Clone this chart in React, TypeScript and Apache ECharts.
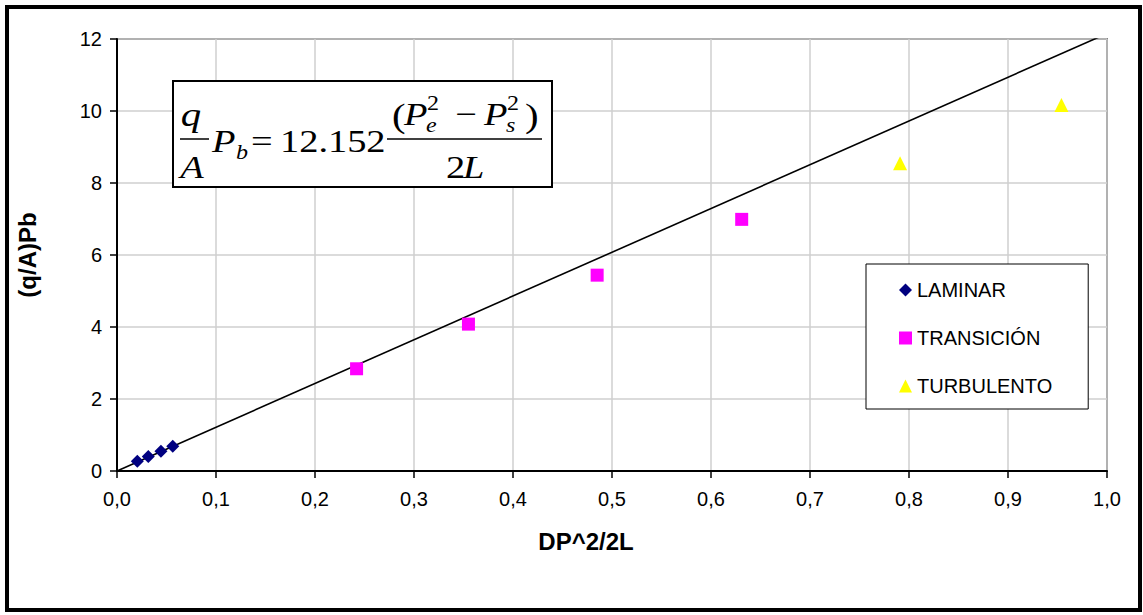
import React, { useEffect, useRef } from "react";
import * as echarts from "echarts";

const laminarX = [0.0205, 0.0316, 0.0444, 0.0563];
const laminarY = [0.27, 0.4, 0.55, 0.69];
const transX = [0.242, 0.355, 0.485, 0.631];
const transY = [2.84, 4.08, 5.44, 6.99];
const turbX = [0.791, 0.954];
const turbY = [8.55, 10.17];
const trendSlope = 12.152;
const trendX = [0, 1];
const seriesNames = ["LAMINAR", "TRANSICIÓN", "TURBULENTO"];
const xTitle = "DP^2/2L";
const yTitle = "(q/A)Pb";

const SANS = "'Liberation Sans', Arial, sans-serif";
const SERIF = "'Liberation Serif', 'Times New Roman', serif";

function pairs(xs: number[], ys: number[]) {
  return xs.map((x, i) => [x, ys[i]]);
}

function eqText(
  text: string,
  x: number,
  baseline: number,
  size: number,
  italic: boolean,
  align: string = "left"
) {
  return {
    type: "text",
    x,
    y: baseline - 0.3375 * size,
    scaleX: 1.2,
    z: 102,
    style: {
      text,
      fill: "#000",
      font: `${italic ? "italic " : ""}${size}px ${SERIF}`,
      textAlign: align,
      textVerticalAlign: "middle",
      verticalAlign: "middle",
    },
  };
}

export default function App() {
  const ref = useRef<HTMLDivElement>(null);
  useEffect(() => {
    if (!ref.current) return;
    const chart = echarts.init(ref.current, null, { renderer: "svg" });
    const option: any = {
      animation: false,
      backgroundColor: "#fff",
      grid: {
        left: 117,
        right: 36,
        top: 39,
        bottom: 144,
        show: true,
        borderColor: "#222",
        borderWidth: 1.5,
        backgroundColor: "transparent",
      },
      legend: {
        data: seriesNames,
        orient: "vertical",
        left: 866,
        top: 264,
        padding: [16, 36, 13, 33],
        itemWidth: 13,
        itemHeight: 13,
        itemGap: 28,
        borderColor: "#000",
        borderWidth: 1,
        backgroundColor: "#fff",
        textStyle: { color: "#000", fontSize: 20, fontFamily: SANS },
        selectedMode: false,
      },
      xAxis: {
        type: "value",
        min: 0,
        max: 1,
        interval: 0.1,
        axisLine: { show: true, lineStyle: { color: "#000", width: 2 } },
        axisTick: { show: true, length: 7, lineStyle: { color: "#000", width: 1.5 } },
        axisLabel: {
          color: "#000",
          fontSize: 20,
          fontFamily: SANS,
          margin: 18,
          formatter: (v: number) => v.toFixed(1).replace(".", ","),
        },
        splitLine: { show: true, lineStyle: { color: "#cfcfcf", width: 1.5 } },
      },
      yAxis: {
        type: "value",
        min: 0,
        max: 12,
        interval: 2,
        axisLine: { show: true, lineStyle: { color: "#000", width: 2 } },
        axisTick: { show: true, length: 7, lineStyle: { color: "#000", width: 1.5 } },
        axisLabel: {
          color: "#000",
          fontSize: 20,
          fontFamily: SANS,
          margin: 15,
        },
        splitLine: { show: true, lineStyle: { color: "#cfcfcf", width: 1.5 } },
      },
      series: [
        {
          name: "trend",
          type: "line",
          data: trendX.map((x) => [x, x * trendSlope]),
          symbol: "none",
          clip: true,
          lineStyle: { color: "#000", width: 1.6 },
          z: 3,
          silent: true,
        },
        {
          name: seriesNames[0],
          type: "scatter",
          data: pairs(laminarX, laminarY),
          symbol: "diamond",
          symbolSize: 13,
          itemStyle: { color: "#000080", opacity: 1 },
          z: 4,
        },
        {
          name: seriesNames[1],
          type: "scatter",
          data: pairs(transX, transY),
          symbol: "rect",
          symbolSize: 13,
          itemStyle: { color: "#FF00FF", opacity: 1 },
          z: 4,
        },
        {
          name: seriesNames[2],
          type: "scatter",
          data: pairs(turbX, turbY),
          symbol: "triangle",
          symbolSize: 14,
          itemStyle: { color: "#FFFF00", opacity: 1 },
          z: 4,
        },
      ],
      graphic: [
        {
          type: "rect",
          z: 100,
          shape: { x: 7, y: 7, width: 1133, height: 603 },
          style: { fill: "none", stroke: "#000", lineWidth: 4 },
        },
        {
          type: "text",
          z: 100,
          x: 27,
          y: 255,
          rotation: Math.PI / 2,
          style: {
            text: yTitle,
            fill: "#000",
            font: `bold 24px ${SANS}`,
            textAlign: "center",
            textVerticalAlign: "middle",
            verticalAlign: "middle",
          },
        },
        {
          type: "text",
          z: 100,
          x: 586,
          y: 541,
          style: {
            text: xTitle,
            fill: "#000",
            font: `bold 24px ${SANS}`,
            textAlign: "center",
            textVerticalAlign: "middle",
            verticalAlign: "middle",
          },
        },
        {
          type: "rect",
          z: 101,
          shape: { x: 173, y: 81, width: 379, height: 106 },
          style: { fill: "#fff", stroke: "#000", lineWidth: 2 },
        },
        eqText("q", 191, 126, 34, true, "center"),
        {
          type: "line",
          z: 102,
          shape: { x1: 180, y1: 139, x2: 209, y2: 139 },
          style: { stroke: "#000", lineWidth: 1.5 },
        },
        eqText("A", 192, 178, 32, true, "center"),
        eqText("P", 212, 152, 32, true),
        eqText("b", 236, 159, 20, true),
        eqText("=", 251, 152, 32, false),
        eqText("12.152", 280, 152, 32, false),
        {
          type: "line",
          z: 102,
          shape: { x1: 387, y1: 139, x2: 542, y2: 139 },
          style: { stroke: "#000", lineWidth: 1.5 },
        },
        eqText("(", 392, 127, 34, false),
        eqText("P", 404, 125, 32, true),
        eqText("e", 426, 132, 20, true),
        eqText("2", 427, 110, 20, false),
        eqText("−", 455, 125, 32, false),
        eqText("P", 484, 125, 32, true),
        eqText("s", 506, 132, 20, true),
        eqText("2", 507, 110, 20, false),
        eqText(")", 525, 127, 34, false),
        eqText("2", 446, 178, 32, false),
        eqText("L", 463, 178, 32, true),
      ],
    };
    chart.setOption(option);
    return () => chart.dispose();
  }, []);
  return (
    <div
      ref={ref}
      style={{ position: "absolute", left: 0, top: 0, width: 1143, height: 615, background: "#fff" }}
    />
  );
}
